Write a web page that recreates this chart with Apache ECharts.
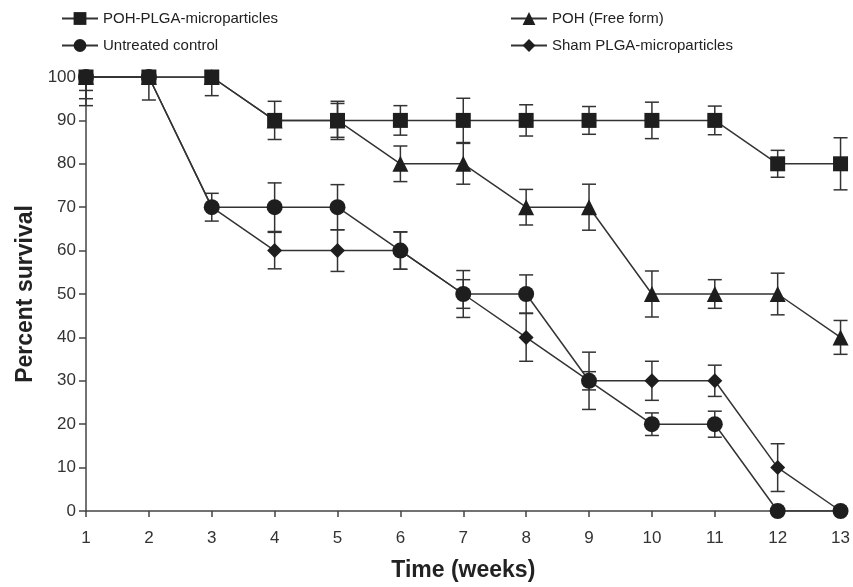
<!DOCTYPE html>
<html>
<head>
<meta charset="utf-8">
<script src="https://cdn.jsdelivr.net/npm/echarts@6/dist/echarts.min.js"></script>
<style>
  html, body { margin: 0; padding: 0; background: #fff; }
  #chart { width: 853px; height: 587px; }
</style>
</head>
<body>
<div id="chart"></div>
<script>
// weeks on the x axis
const weeks = [1, 2, 3, 4, 5, 6, 7, 8, 9, 10, 11, 12, 13]
const yTicks = [0, 10, 20, 30, 40, 50, 60, 70, 80, 90, 100]

// percent survival
const pohPlga = [100, 100, 100, 90, 90, 90, 90, 90, 90, 90, 90, 80, 80]
const pohFree = [100, 100, 100, 90, 90, 80, 80, 70, 70, 50, 50, 50, 40]
const untreated = [100, 100, 70, 70, 70, 60, 50, 50, 30, 20, 20, 0, 0]
const sham = [100, 100, 70, 60, 60, 60, 50, 40, 30, 30, 30, 10, 0]

// error bar half-heights (0 = none drawn)
const errPlga = [3.1, 5.3, 4.3, 4.4, 3.9, 3.4, 5.1, 3.6, 3.2, 4.2, 3.3, 3.1, 6.0]
const errFree = [5.0, 0, 0, 0, 4.4, 4.1, 4.7, 4.1, 5.3, 5.3, 3.3, 4.8, 3.9]
const errUntreated = [6.6, 0, 3.2, 5.6, 5.2, 4.3, 5.4, 4.4, 6.6, 2.6, 3.0, 0, 0]
const errSham = [0, 0, 0, 4.2, 4.8, 4.3, 3.3, 5.5, 2.1, 4.5, 3.6, 5.5, 0]

const names = ['POH-PLGA-microparticles', 'Untreated control', 'POH (Free form)', 'Sham PLGA-microparticles']
const ink = '#1e1e1e'
const lineCol = '#333'
const font = 'Liberation Sans, Arial, sans-serif'

function pairs(vals) {
  return weeks.map((w, i) => [w, vals[i]])
}

function errData(vals, errs) {
  const out = []
  weeks.forEach((w, i) => {
    if (errs[i] > 0) {
      out.push([w, vals[i] - errs[i], Math.min(100, vals[i] + errs[i])])
    }
  })
  return out
}

function errSeries(vals, errs) {
  return {
    type: 'custom',
    silent: true,
    z: 1,
    data: errData(vals, errs),
    renderItem(params, api) {
      const x = api.value(0)
      const lo = api.coord([x, api.value(1)])
      const hi = api.coord([x, api.value(2)])
      const half = 7
      const style = { stroke: lineCol, lineWidth: 1.5 }
      return {
        type: 'group',
        children: [
          { type: 'line', shape: { x1: lo[0], y1: lo[1], x2: hi[0], y2: hi[1] }, style },
          { type: 'line', shape: { x1: lo[0] - half, y1: lo[1], x2: lo[0] + half, y2: lo[1] }, style },
          { type: 'line', shape: { x1: hi[0] - half, y1: hi[1], x2: hi[0] + half, y2: hi[1] }, style }
        ]
      }
    }
  }
}

function lineSeries(name, vals, symbol, size, z) {
  return {
    name,
    type: 'line',
    data: pairs(vals),
    symbol,
    symbolSize: size,
    showAllSymbol: true,
    z,
    lineStyle: { color: lineCol, width: 1.5 },
    itemStyle: { color: ink, borderWidth: 0 },
    emphasis: { disabled: true }
  }
}

const legendText = { fontSize: 15, color: '#222', fontFamily: font }

const chart = echarts.init(document.getElementById('chart'))
chart.setOption({
  animation: false,
  textStyle: { fontFamily: font },
  grid: { left: 86, right: 8, top: 77, bottom: 72 },
  legend: [
    {
      data: [names[0], names[1]],
      orient: 'vertical',
      left: 56,
      top: 6,
      itemWidth: 36,
      itemHeight: 16,
      itemGap: 12,
      textStyle: legendText
    },
    {
      data: [names[2], names[3]],
      orient: 'vertical',
      left: 505,
      top: 6,
      itemWidth: 36,
      itemHeight: 16,
      itemGap: 12,
      textStyle: legendText
    }
  ],
  xAxis: {
    type: 'value',
    min: 1,
    max: 13,
    interval: 1,
    name: 'Time (weeks)',
    nameLocation: 'middle',
    nameGap: 48,
    nameTextStyle: { fontSize: 23, fontWeight: 'bold', color: '#222' },
    axisLine: { lineStyle: { color: '#444', width: 1.5 } },
    axisTick: { length: 6, lineStyle: { color: '#444', width: 1.5 } },
    axisLabel: { fontSize: 17, color: '#333', margin: 19 },
    splitLine: { show: false }
  },
  yAxis: {
    type: 'value',
    min: 0,
    max: 100,
    interval: 10,
    name: 'Percent survival',
    nameLocation: 'middle',
    nameGap: 49,
    nameTextStyle: { fontSize: 23, fontWeight: 'bold', color: '#222' },
    axisLine: { show: true, lineStyle: { color: '#444', width: 1.5 } },
    axisTick: { show: true, length: 7, lineStyle: { color: '#444', width: 1.5 } },
    axisLabel: {
      fontSize: 17,
      color: '#333',
      margin: 10,
      formatter: v => (yTicks.indexOf(v) >= 0 ? String(v) : '')
    },
    splitLine: { show: false }
  },
  series: [
    errSeries(pohPlga, errPlga),
    errSeries(pohFree, errFree),
    errSeries(untreated, errUntreated),
    errSeries(sham, errSham),
    lineSeries(names[2], pohFree, 'triangle', 16, 2),
    lineSeries(names[3], sham, 'diamond', 15, 2),
    lineSeries(names[1], untreated, 'circle', 16, 3),
    lineSeries(names[0], pohPlga, 'rect', 15, 4)
  ]
})
</script>
</body>
</html>
